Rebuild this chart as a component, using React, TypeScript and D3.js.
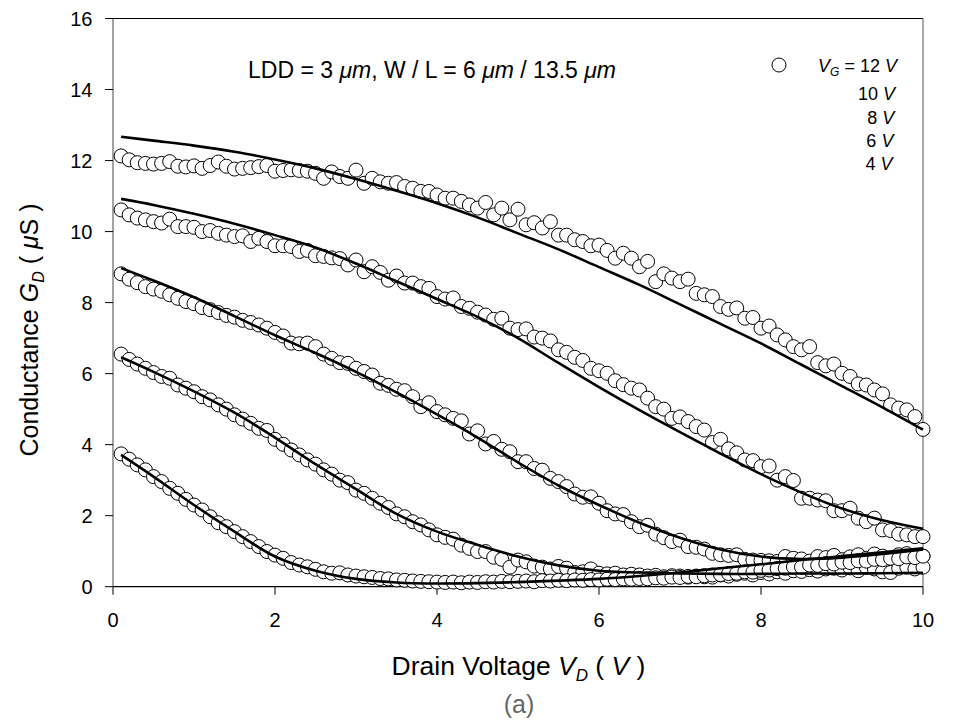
import React from 'react';
import * as d3 from 'd3';

// Drain voltage sampling points (V)
const VD = [
  0.1, 0.2, 0.3, 0.4, 0.5, 0.6, 0.7, 0.8, 0.9, 1.0,
  1.1, 1.2, 1.3, 1.4, 1.5, 1.6, 1.7, 1.8, 1.9, 2.0,
  2.1, 2.2, 2.3, 2.4, 2.5, 2.6, 2.7, 2.8, 2.9, 3.0,
  3.1, 3.2, 3.3, 3.4, 3.5, 3.6, 3.7, 3.8, 3.9, 4.0,
  4.1, 4.2, 4.3, 4.4, 4.5, 4.6, 4.7, 4.8, 4.9, 5.0,
  5.1, 5.2, 5.3, 5.4, 5.5, 5.6, 5.7, 5.8, 5.9, 6.0,
  6.1, 6.2, 6.3, 6.4, 6.5, 6.6, 6.7, 6.8, 6.9, 7.0,
  7.1, 7.2, 7.3, 7.4, 7.5, 7.6, 7.7, 7.8, 7.9, 8.0,
  8.1, 8.2, 8.3, 8.4, 8.5, 8.6, 8.7, 8.8, 8.9, 9.0,
  9.1, 9.2, 9.3, 9.4, 9.5, 9.6, 9.7, 9.8, 9.9, 10.0,
];

// Measured conductance (uS)
const G_VG12 = [
  12.13, 12.02, 11.94, 11.92, 11.90, 11.92, 11.97, 11.84, 11.82, 11.85,
  11.78, 11.86, 11.96, 11.84, 11.76, 11.78, 11.80, 11.83, 11.86, 11.70,
  11.72, 11.74, 11.72, 11.70, 11.64, 11.50, 11.68, 11.55, 11.50, 11.73,
  11.36, 11.50, 11.40, 11.36, 11.38, 11.27, 11.22, 11.13, 11.13, 11.03,
  10.94, 10.94, 10.85, 10.75, 10.66, 10.82, 10.47, 10.66, 10.33, 10.63,
  10.19, 10.25, 10.10, 10.28, 9.90, 9.90, 9.77, 9.72, 9.60, 9.62,
  9.47, 9.25, 9.39, 9.25, 9.01, 9.16, 8.59, 8.81, 8.69, 8.59,
  8.66, 8.26, 8.22, 8.17, 7.89, 7.81, 7.85, 7.56, 7.58, 7.28,
  7.34, 7.09, 6.95, 6.76, 6.67, 6.76, 6.31, 6.22, 6.27, 6.01,
  5.92, 5.71, 5.68, 5.54, 5.43, 5.12, 5.03, 4.98, 4.79, 4.43,
];
const G_VG10 = [
  10.61, 10.47, 10.38, 10.33, 10.28, 10.24, 10.35, 10.14, 10.14, 10.12,
  10.00, 10.03, 9.95, 9.90, 9.86, 9.88, 9.72, 9.81, 9.72, 9.60,
  9.60, 9.58, 9.44, 9.47, 9.32, 9.30, 9.26, 9.24, 9.06, 9.20,
  8.87, 9.01, 8.85, 8.63, 8.75, 8.55, 8.55, 8.45, 8.40, 8.17,
  8.10, 8.13, 7.89, 7.84, 7.73, 7.65, 7.53, 7.56, 7.28, 7.24,
  7.26, 7.03, 7.00, 6.92, 6.67, 6.60, 6.46, 6.37, 6.15, 6.08,
  6.01, 5.80, 5.69, 5.59, 5.54, 5.31, 5.07, 5.00, 4.74, 4.78,
  4.65, 4.51, 4.41, 4.06, 4.15, 3.88, 3.77, 3.57, 3.55, 3.38,
  3.40, 3.00, 3.10, 2.99, 2.49, 2.49, 2.44, 2.42, 2.14, 2.14,
  2.21, 1.93, 1.83, 1.93, 1.60, 1.58, 1.48, 1.46, 1.41, 1.41,
];
const G_VG8 = [
  8.81, 8.66, 8.56, 8.45, 8.38, 8.32, 8.22, 8.12, 8.03, 7.97,
  7.86, 7.80, 7.72, 7.64, 7.59, 7.50, 7.44, 7.37, 7.28, 7.16,
  7.06, 6.86, 6.84, 6.86, 6.76, 6.55, 6.43, 6.31, 6.29, 6.15,
  6.06, 5.96, 5.73, 5.67, 5.56, 5.52, 5.35, 5.07, 5.18, 4.93,
  4.84, 4.74, 4.67, 4.30, 4.39, 4.02, 4.09, 3.87, 3.80, 3.52,
  3.52, 3.33, 3.28, 3.05, 2.96, 2.82, 2.61, 2.52, 2.53, 2.35,
  2.14, 2.05, 2.03, 1.83, 1.69, 1.73, 1.48, 1.38, 1.27, 1.31,
  1.13, 1.11, 1.06, 0.94, 0.90, 0.88, 0.90, 0.77, 0.75, 0.74,
  0.73, 0.71, 0.85, 0.80, 0.78, 0.72, 0.85, 0.82, 0.88, 0.76,
  0.84, 0.90, 0.80, 0.92, 0.86, 0.80, 0.90, 0.93, 0.88, 0.86,
];
const G_VG6 = [
  6.55, 6.40, 6.27, 6.15, 6.03, 5.92, 5.87, 5.68, 5.59, 5.49,
  5.35, 5.26, 5.12, 5.00, 4.84, 4.72, 4.60, 4.46, 4.40, 4.15,
  4.01, 3.85, 3.71, 3.57, 3.45, 3.29, 3.17, 3.00, 2.93, 2.72,
  2.63, 2.49, 2.35, 2.23, 2.05, 1.97, 1.83, 1.74, 1.60, 1.46,
  1.39, 1.34, 1.17, 1.08, 0.99, 0.99, 0.83, 0.77, 0.55, 0.75,
  0.70, 0.58, 0.55, 0.50, 0.57, 0.52, 0.40, 0.42, 0.50, 0.38,
  0.36, 0.38, 0.33, 0.35, 0.33, 0.30, 0.32, 0.28, 0.31, 0.30,
  0.27, 0.30, 0.28, 0.27, 0.33, 0.30, 0.35, 0.38, 0.33, 0.40,
  0.36, 0.42, 0.38, 0.45, 0.43, 0.48, 0.44, 0.50, 0.52, 0.47,
  0.53, 0.45, 0.55, 0.50, 0.42, 0.40, 0.52, 0.55, 0.50, 0.55,
];
const G_VG4 = [
  3.74, 3.59, 3.43, 3.29, 3.10, 2.96, 2.77, 2.63, 2.46, 2.30,
  2.16, 1.97, 1.80, 1.69, 1.55, 1.41, 1.27, 1.13, 0.99, 0.89,
  0.80, 0.68, 0.61, 0.56, 0.49, 0.42, 0.38, 0.39, 0.33, 0.30,
  0.28, 0.26, 0.23, 0.22, 0.19, 0.18, 0.16, 0.15, 0.14, 0.13,
  0.12, 0.13, 0.11, 0.13, 0.12, 0.14, 0.13, 0.15, 0.14, 0.15,
  0.16, 0.14, 0.17, 0.16, 0.18, 0.17, 0.19, 0.18, 0.20, 0.19,
  0.21, 0.20, 0.22, 0.21, 0.23, 0.22, 0.25, 0.24, 0.27, 0.26,
  0.29, 0.28, 0.31, 0.33, 0.34, 0.37, 0.38, 0.42, 0.41, 0.46,
  0.47, 0.51, 0.52, 0.56, 0.55, 0.61, 0.60, 0.65, 0.64, 0.69,
  0.68, 0.73, 0.72, 0.77, 0.76, 0.80, 0.79, 0.84, 0.82, 0.86,
];

// Model fit curves
const FIT_VD = [0.1, 0.5, 1.0, 1.5, 2.0, 2.5, 3.0, 3.5, 4.0, 4.5, 5.0, 5.5, 6.0, 6.5, 7.0, 7.5, 8.0, 8.5, 9.0, 9.5, 10.0];
const FIT_VG12 = [12.67, 12.56, 12.42, 12.25, 12.03, 11.78, 11.48, 11.15, 10.80, 10.40, 9.95, 9.50, 9.00, 8.50, 7.95, 7.40, 6.85, 6.25, 5.65, 5.05, 4.42];
const FIT_VG10 = [10.92, 10.75, 10.50, 10.22, 9.90, 9.55, 9.10, 8.60, 8.10, 7.60, 7.00, 6.30, 5.62, 4.97, 4.35, 3.75, 3.17, 2.65, 2.20, 1.87, 1.63];
const FIT_VG8 = [8.97, 8.62, 8.15, 7.62, 7.08, 6.58, 6.05, 5.47, 4.85, 4.20, 3.50, 2.85, 2.30, 1.80, 1.38, 1.05, 0.85, 0.78, 0.82, 0.92, 1.05];
const FIT_VG6 = [6.46, 6.05, 5.50, 4.90, 4.20, 3.45, 2.75, 2.05, 1.55, 1.18, 0.85, 0.60, 0.45, 0.40, 0.37, 0.36, 0.36, 0.37, 0.37, 0.38, 0.39];
const FIT_VG4 = [3.71, 3.10, 2.30, 1.55, 0.85, 0.45, 0.22, 0.12, 0.09, 0.10, 0.13, 0.17, 0.22, 0.30, 0.40, 0.52, 0.63, 0.75, 0.86, 0.97, 1.08];

const X_TICKS = [0, 2, 4, 6, 8, 10];
const Y_TICKS = [0, 2, 4, 6, 8, 10, 12, 14, 16];
const LEGEND_VG = ['12', '10', '8', '6', '4'];

const MEASURED = [G_VG12, G_VG10, G_VG8, G_VG6, G_VG4];
const FITS = [FIT_VG12, FIT_VG10, FIT_VG8, FIT_VG6, FIT_VG4];

const FONT = '"Liberation Sans", Arial, Helvetica, sans-serif';

export default function App() {
  const W = 961;
  const H = 724;
  const left = 113;
  const right = 923;
  const top = 18.5;
  const bottom = 586.7;

  const x = d3.scaleLinear().domain([0, 10]).range([left, right]);
  const y = d3.scaleLinear().domain([0, 16]).range([bottom, top]);

  const line = d3
    .line<[number, number]>()
    .x((d) => x(d[0]))
    .y((d) => y(d[1]))
    .curve(d3.curveCatmullRom.alpha(0.5));

  const legendRowsY = [99.5, 123.5, 146.5, 169.5];

  return (
    <svg
      width={W}
      height={H}
      viewBox={`0 0 ${W} ${H}`}
      style={{ position: 'absolute', left: 0, top: 0, background: '#fff' }}
      fontFamily={FONT}
    >
      <rect x={0} y={0} width={W} height={H} fill="#fff" />

      {/* frame */}
      <line x1={left} x2={right} y1={top} y2={top} stroke="#000" strokeWidth={1} />
      <line x1={right} x2={right} y1={top} y2={bottom} stroke="#555" strokeWidth={1} />
      <line x1={left} x2={left} y1={top} y2={bottom} stroke="#666" strokeWidth={1.2} />
      <line x1={left} x2={right} y1={bottom} y2={bottom} stroke="#000" strokeWidth={1.2} />

      {/* y ticks */}
      {Y_TICKS.map((t) => (
        <g key={'y' + t}>
          <line x1={left - 8} x2={left} y1={y(t)} y2={y(t)} stroke="#000" strokeWidth={1} />
          <text x={92.5} y={y(t)} dy="0.36em" textAnchor="end" fontSize={20} fill="#000">
            {t}
          </text>
        </g>
      ))}
      {/* x ticks */}
      {X_TICKS.map((t) => (
        <g key={'x' + t}>
          <line x1={x(t)} x2={x(t)} y1={bottom} y2={bottom + 8} stroke="#000" strokeWidth={1} />
          <text x={x(t)} y={627} textAnchor="middle" fontSize={20} fill="#000">
            {t}
          </text>
        </g>
      ))}

      {/* measured points */}
      {MEASURED.map((series, si) => (
        <g key={'m' + si}>
          {series.map((v, i) => (
            <circle key={i} cx={x(VD[i])} cy={y(v)} r={7} fill="#fff" stroke="#000" strokeWidth={1} />
          ))}
        </g>
      ))}

      {/* fit curves */}
      {FITS.map((f, si) => (
        <path
          key={'f' + si}
          d={line(FIT_VD.map((vx, i) => [vx, f[i]] as [number, number])) || ''}
          fill="none"
          stroke="#000"
          strokeWidth={2.6}
        />
      ))}

      {/* annotation */}
      <text x={248} y={78} textAnchor="start" fontSize={23} fill="#000">
        LDD = 3 <tspan fontStyle="italic">μm</tspan>, W / L = 6 <tspan fontStyle="italic">μm</tspan> / 13.5{' '}
        <tspan fontStyle="italic">μm</tspan>
      </text>

      {/* legend */}
      <circle cx={779} cy={65} r={7} fill="#fff" stroke="#000" strokeWidth={1} />
      <text x={897} y={71.5} textAnchor="end" fontSize={18} fill="#000">
        <tspan fontStyle="italic">V</tspan>
        <tspan fontSize={12} dy={4} fontStyle="italic">G</tspan>
        <tspan dy={-4}> = {LEGEND_VG[0]} </tspan>
        <tspan fontStyle="italic">V</tspan>
      </text>
      {LEGEND_VG.slice(1).map((v, i) => (
        <text key={v} x={895 - i * 0.8} y={legendRowsY[i]} textAnchor="end" fontSize={18} fill="#000">
          {v} <tspan fontStyle="italic">V</tspan>
        </text>
      ))}

      {/* x axis title */}
      <text x={518.5} y={675} textAnchor="middle" fontSize={26.5} fill="#000">
        Drain Voltage <tspan fontStyle="italic">V</tspan>
        <tspan fontStyle="italic" fontSize={17} dy={6}>D</tspan>
        <tspan dy={-6}> ( </tspan>
        <tspan fontStyle="italic">V</tspan> )
      </text>
      <text x={519} y={713} textAnchor="middle" fontSize={25} fill="#666">
        (a)
      </text>

      {/* y axis title */}
      <text transform="translate(38,330) rotate(-90)" textAnchor="middle" fontSize={25} fill="#000">
        Conductance <tspan fontStyle="italic">G</tspan>
        <tspan fontStyle="italic" fontSize={16} dy={6}>D</tspan>
        <tspan dy={-6}> ( </tspan>
        <tspan fontStyle="italic">μ</tspan>S )
      </text>
    </svg>
  );
}
